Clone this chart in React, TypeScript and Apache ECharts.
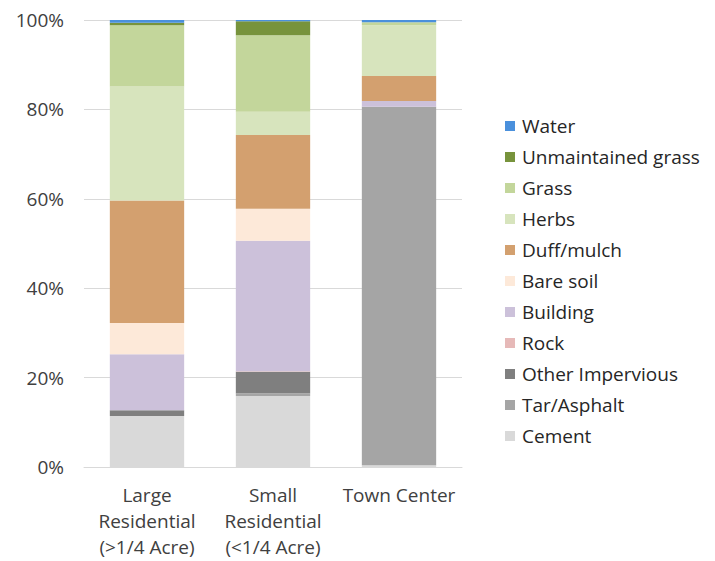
import React, { useEffect, useRef } from "react";
import * as echarts from "echarts";

const categories = ["Large\nResidential\n(>1/4 Acre)", "Small\nResidential\n(<1/4 Acre)", "Town Center"];

const seriesNames = [
  "Cement",
  "Tar/Asphalt",
  "Other Impervious",
  "Rock",
  "Building",
  "Bare soil",
  "Duff/mulch",
  "Herbs",
  "Grass",
  "Unmaintained grass",
  "Water",
];

const cement = [11.4, 15.9, 0.4];
const tarAsphalt = [0, 0.6, 80.2];
const otherImpervious = [1.3, 4.8, 0];
const rock = [0, 0.1, 0];
const building = [12.5, 29.2, 1.3];
const bareSoil = [7.0, 7.2, 0];
const duffMulch = [27.4, 16.5, 5.6];
const herbs = [25.5, 5.2, 11.3];
const grass = [13.7, 17.1, 0.7];
const unmaintainedGrass = [0.6, 3.1, 0];
const water = [0.6, 0.3, 0.5];

const seriesValues = [
  cement,
  tarAsphalt,
  otherImpervious,
  rock,
  building,
  bareSoil,
  duffMulch,
  herbs,
  grass,
  unmaintainedGrass,
  water,
];

const colors = [
  "#D9D9D9",
  "#A5A5A5",
  "#7F7F7F",
  "#E6B9B8",
  "#CCC1DA",
  "#FDE9D9",
  "#D3A06F",
  "#D7E4BD",
  "#C3D69B",
  "#77933C",
  "#4A90DC",
];

const yTicks = [0, 20, 40, 60, 80, 100];

const FONT = "'Open Sans', 'Noto Sans', sans-serif";

export default function App() {
  const ref = useRef<HTMLDivElement>(null);
  useEffect(() => {
    if (!ref.current) return;
    const chart = echarts.init(ref.current, undefined, { renderer: "svg" });
    chart.setOption({
      animation: false,
      backgroundColor: "#ffffff",
      grid: { left: 84, top: 20, width: 378, bottom: 94 },
      xAxis: {
        type: "category",
        data: categories,
        axisLine: { lineStyle: { color: "#D9D9D9", width: 1 } },
        axisTick: { show: false },
        axisLabel: {
          color: "#404040",
          fontSize: 19,
          fontFamily: FONT,
          lineHeight: 26,
          margin: 15,
          interval: 0,
        },
      },
      yAxis: {
        type: "value",
        min: yTicks[0],
        max: yTicks[yTicks.length - 1],
        interval: 20,
        axisLine: { show: false },
        axisTick: { show: false },
        splitLine: { lineStyle: { color: "#D9D9D9", width: 1 } },
        axisLabel: {
          formatter: "{value}%",
          color: "#404040",
          fontSize: 19,
          fontFamily: FONT,
          margin: 20,
        },
      },
      legend: {
        orient: "vertical",
        left: 505,
        top: 116,
        padding: 0,
        icon: "rect",
        itemWidth: 10,
        itemHeight: 10,
        itemGap: 11,
        data: [...seriesNames].reverse(),
        textStyle: {
          color: "#262626",
          fontSize: 19,
          fontFamily: FONT,
          lineHeight: 20,
          padding: [0, 0, 0, 2],
        },
      },
      series: seriesNames.map((name, i) => ({
        name,
        type: "bar",
        stack: "total",
        barCategoryGap: "41%",
        data: seriesValues[i],
        itemStyle: { color: colors[i] },
      })),
    });
    return () => chart.dispose();
  }, []);
  return <div ref={ref} style={{ width: 715, height: 561, position: "absolute", left: 0, top: 0 }} />;
}
